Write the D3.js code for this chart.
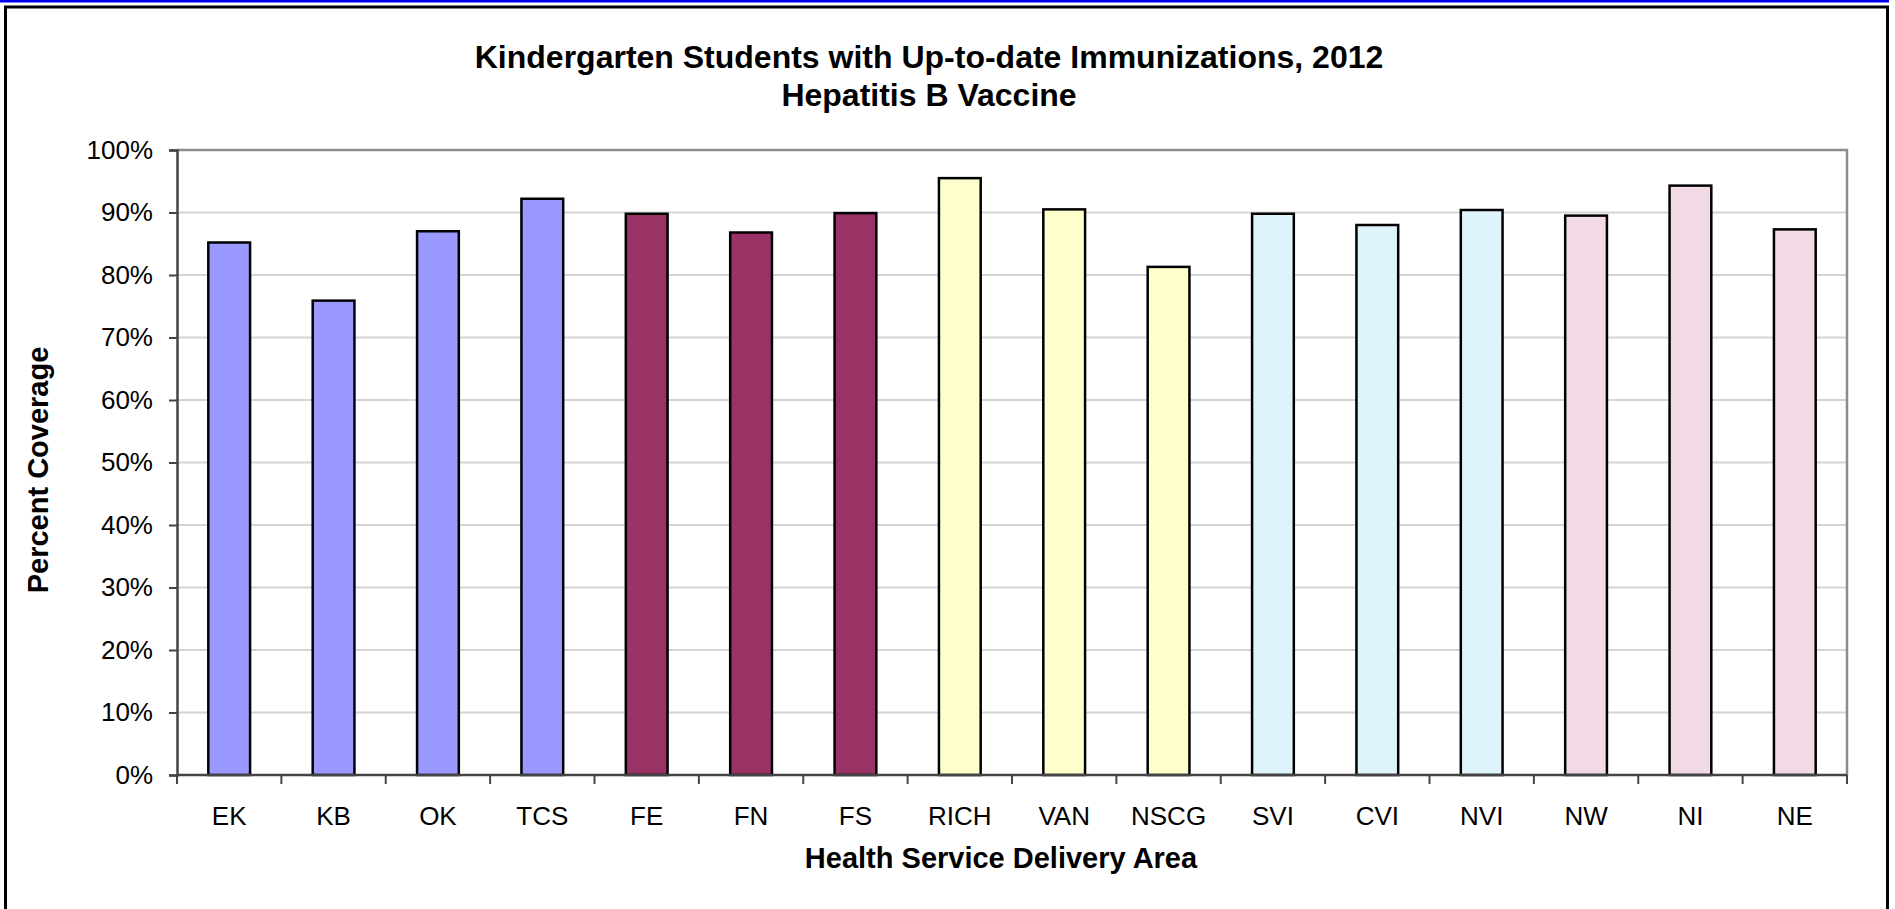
<!DOCTYPE html>
<html>
<head>
<meta charset="utf-8">
<script src="https://cdn.jsdelivr.net/npm/d3@7"></script>
<style>
  html, body { margin: 0; padding: 0; background: #fff; overflow: hidden; }
  text { font-family: "Liberation Sans", Arial, sans-serif; fill: #000; }
</style>
</head>
<body>
<div id="chart"></div>
<script>
// data
var areas = ['EK','KB','OK','TCS','FE','FN','FS','RICH','VAN','NSCG','SVI','CVI','NVI','NW','NI','NE'];
var coverage = [0.852,0.759,0.870,0.922,0.898,0.868,0.899,0.955,0.905,0.813,0.898,0.880,0.904,0.895,0.943,0.873];
var regionOf = ['IH','IH','IH','IH','FH','FH','FH','VCH','VCH','VCH','VIHA','VIHA','VIHA','NH','NH','NH'];
var regions = ['IH','FH','VCH','VIHA','NH'];
var regionColors = ['#9999ff','#993366','#ffffcc','#dff3fc','#f2d9e6'];
var yTicks = [0,0.1,0.2,0.3,0.4,0.5,0.6,0.7,0.8,0.9,1.0];

var makeChart = function() {
  var W = 1895, H = 909;
  var plotL = 177, plotR = 1847, plotT = 150, plotB = 775;

  var svg = d3.select('#chart').append('svg')
    .attr('width', W).attr('height', H);

  // blue rule + frame
  svg.append('rect').attr('x',0).attr('y',0).attr('width',1889).attr('height',2.5).attr('fill','#0000ee');
  svg.append('rect').attr('x',5.5).attr('y',7).attr('width',1882).attr('height',H+20)
    .attr('fill','none').attr('stroke','#000').attr('stroke-width',3);

  var x = d3.scaleBand().domain(areas).range([plotL,plotR]).paddingInner(0.6).paddingOuter(0.3);
  var y = d3.scaleLinear().domain([0,1]).range([plotB,plotT]);
  var color = d3.scaleOrdinal().domain(regions).range(regionColors);

  // gridlines
  svg.append('g').selectAll('line').data(yTicks.slice(1,-1)).enter().append('line')
    .attr('x1',plotL).attr('x2',plotR)
    .attr('y1',function(d){ return y(d); }).attr('y2',function(d){ return y(d); })
    .attr('stroke','#d4d4d4').attr('stroke-width',2);

  // plot border top/right
  svg.append('path')
    .attr('d','M'+plotL+','+y(1)+'H'+plotR+'V'+plotB)
    .attr('fill','none').attr('stroke','#8c8c8c').attr('stroke-width',2.5);

  // bars
  svg.append('g').selectAll('rect').data(coverage).enter().append('rect')
    .attr('x',function(d,i){ return x(areas[i]); })
    .attr('width',x.bandwidth())
    .attr('y',function(d){ return y(d); })
    .attr('height',function(d){ return plotB - y(d); })
    .attr('fill',function(d,i){ return color(regionOf[i]); })
    .attr('stroke','#000').attr('stroke-width',2.5);

  // y axis
  var yAxis = d3.axisLeft(y).tickValues(yTicks).tickFormat(d3.format('.0%')).tickSize(8).tickPadding(16);
  var gy = svg.append('g').attr('transform','translate('+plotL+',0)').call(yAxis);
  gy.select('.domain').attr('stroke','#444').attr('stroke-width',2.5);
  gy.selectAll('.tick line').attr('stroke','#444').attr('stroke-width',2);
  gy.selectAll('text').attr('font-family',null).style('font-size','26px');

  // x axis: ticks sit between the categories
  var step = x.step();
  var bounds = d3.range(areas.length+1).map(function(i){ return plotL + i*step; });
  var gx = svg.append('g').attr('transform','translate(0,'+plotB+')');
  gx.append('line').attr('x1',plotL).attr('x2',plotR).attr('stroke','#444').attr('stroke-width',2.5);
  gx.selectAll('.tk').data(bounds).enter().append('line')
    .attr('x1',function(d){ return d; }).attr('x2',function(d){ return d; })
    .attr('y1',0).attr('y2',9).attr('stroke','#444').attr('stroke-width',2);
  gx.selectAll('.lbl').data(areas).enter().append('text')
    .attr('x',function(d){ return x(d) + x.bandwidth()/2; })
    .attr('y',50).attr('text-anchor','middle').style('font-size','26px')
    .text(function(d){ return d; });

  // titles
  svg.append('text').attr('x',929).attr('y',68).attr('text-anchor','middle')
    .style('font-size','32px').style('font-weight','bold')
    .text('Kindergarten Students with Up-to-date Immunizations, 2012');
  svg.append('text').attr('x',929).attr('y',106).attr('text-anchor','middle')
    .style('font-size','32px').style('font-weight','bold')
    .text('Hepatitis B Vaccine');
  svg.append('text').attr('x',1001).attr('y',868).attr('text-anchor','middle')
    .style('font-size','29px').style('font-weight','bold')
    .text('Health Service Delivery Area');
  svg.append('text').attr('transform','translate(48,470) rotate(-90)').attr('text-anchor','middle')
    .style('font-size','29px').style('font-weight','bold')
    .text('Percent Coverage');
};

makeChart();
</script>
</body>
</html>
